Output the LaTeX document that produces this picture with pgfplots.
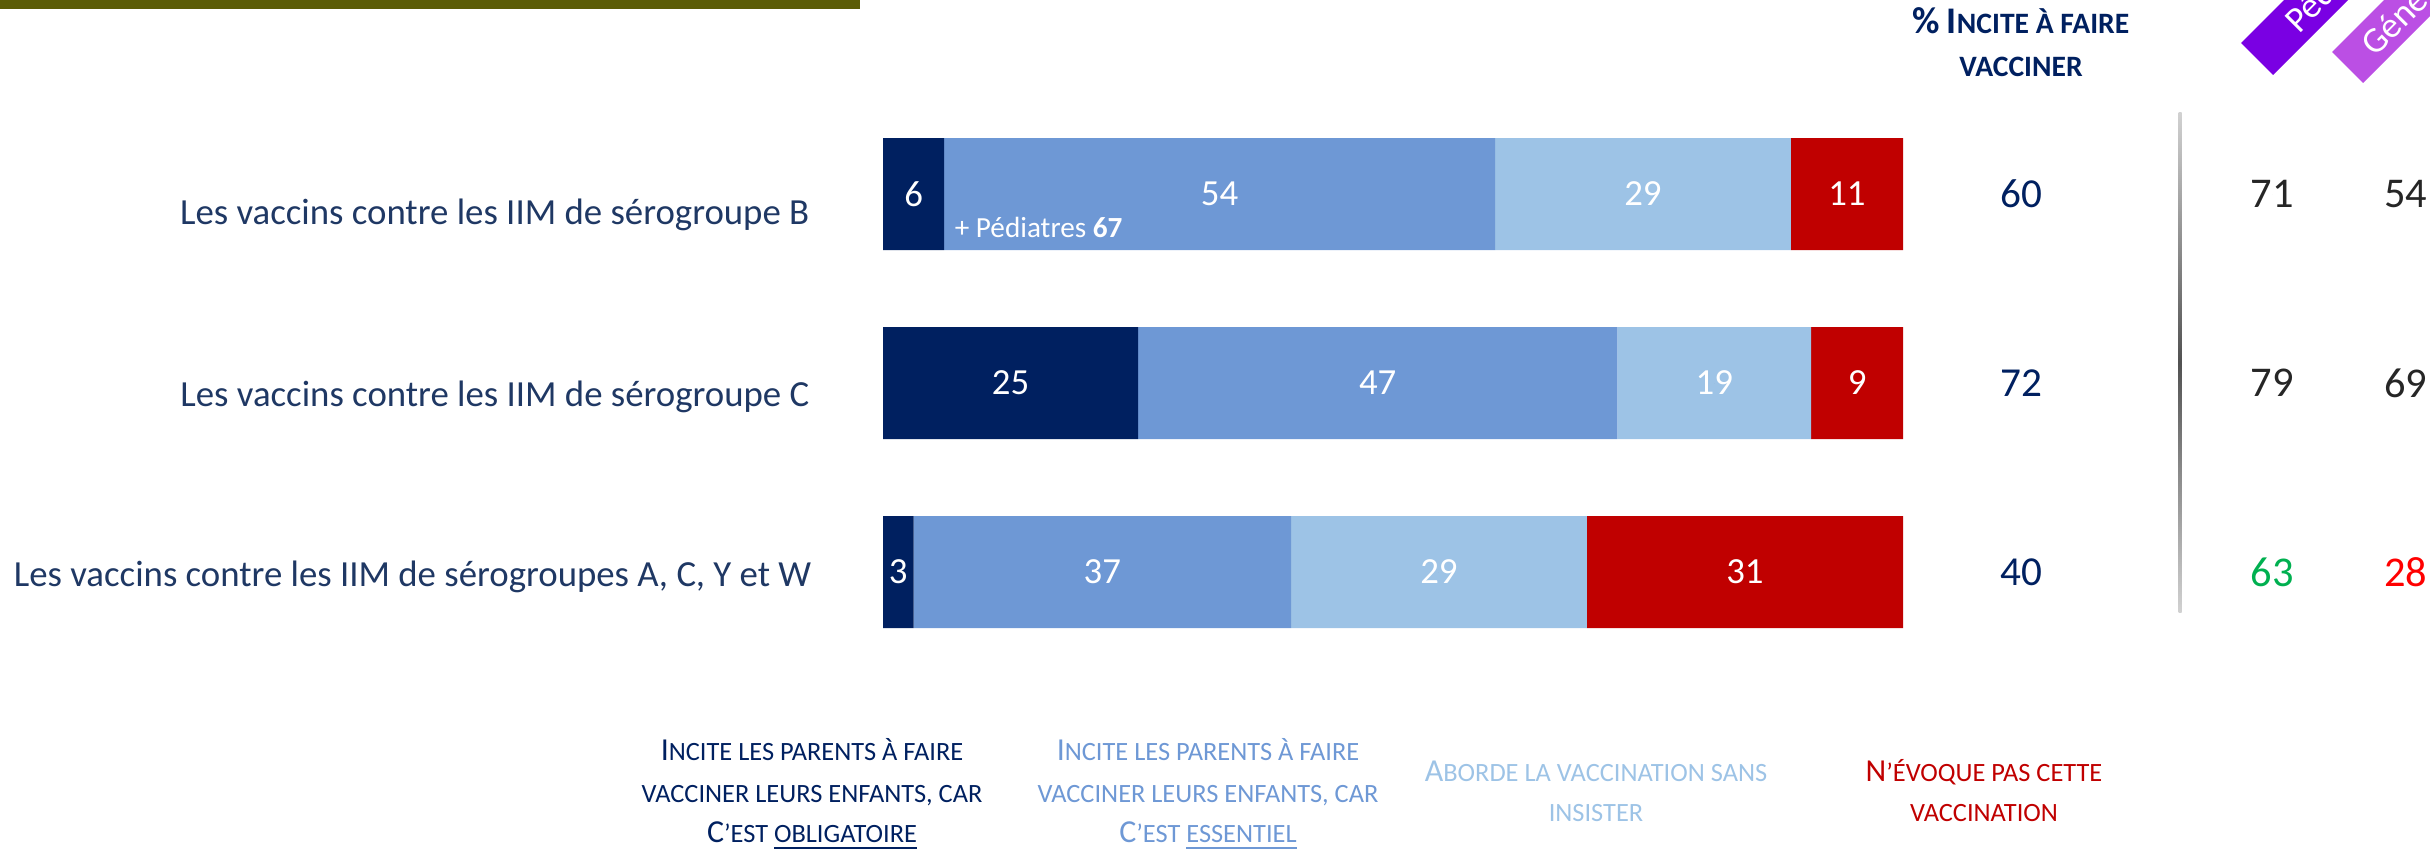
\documentclass[border=0pt]{standalone}
\usepackage{fontspec}
\setmainfont{Carlito}
\usepackage{pgfplots}
\usepackage{pgfplotstable}
\pgfplotsset{compat=1.18}

\definecolor{navy}{HTML}{002060}
\definecolor{midblue}{HTML}{6E98D5}
\definecolor{lightblue}{HTML}{9DC3E6}
\definecolor{darkred}{HTML}{C00000}
\definecolor{labelblue}{HTML}{1F3864}
\definecolor{numgray}{HTML}{262626}
\definecolor{okgreen}{HTML}{00B050}
\definecolor{badred}{HTML}{FF0000}
\definecolor{olivebar}{HTML}{5B5C06}
\definecolor{purpA}{HTML}{7A00E3}
\definecolor{purpB}{HTML}{BB4FE4}

\newcommand{\fs}[1]{\fontsize{#1}{#1}\selectfont}
% fake small caps: first capital at full size
\newcommand{\bigc}[1]{{\fs{8}#1}}
\newcommand{\bigh}[1]{{\fs{9.4}#1}}

% one row per vaccine; y = row centre (px from top)
\pgfplotstableread{
y   v1 v2 v3 v4 tot ped gen
194 6  54 29 11 60  71  54
383 25 47 19 9  72  79  69
572 3  37 29 31 40  63  28
}\vacc

\pgfplotsset{
  pxframe/.style={at={(0,0)}, anchor=south west, scale only axis,
    width=607.5pt, height=212pt,
    xmin=-86.569, xmax=151.667, ymin=0, ymax=848, y dir=reverse,
    hide axis, clip=false},
  lbl/.style={only marks, mark=*, mark size=0pt,
    mark options={draw=none,fill=none}, nodes near coords,
    every node near coord/.append style={anchor=center, inner sep=0pt,
      font={\fs{9.2}}, text=#1}},
}

\begin{document}
\begin{tikzpicture}
\path[use as bounding box] (0,0) rectangle (607.5pt,212pt);

% stacked bars
\begin{axis}[pxframe, xbar stacked, bar width=112]
\addplot[fill=navy, draw=none] table[x=v1, y=y]{\vacc};
\addplot[fill=midblue, draw=none] table[x=v2, y=y]{\vacc};
\addplot[fill=lightblue, draw=none] table[x=v3, y=y]{\vacc};
\addplot[fill=darkred, draw=none] table[x=v4, y=y]{\vacc};
\end{axis}

% value labels
\begin{axis}[pxframe, point meta=explicit, /pgf/number format/assume math mode=true]
\addplot[lbl=white] table[x expr=\thisrow{v1}/2, y=y, meta=v1]{\vacc};
\addplot[lbl=white] table[x expr=\thisrow{v1}+\thisrow{v2}/2, y=y, meta=v2]{\vacc};
\addplot[lbl=white] table[x expr=\thisrow{v1}+\thisrow{v2}+\thisrow{v3}/2, y=y, meta=v3]{\vacc};
\addplot[lbl=white] table[x expr=\thisrow{v1}+\thisrow{v2}+\thisrow{v3}+\thisrow{v4}/2, y=y, meta=v4]{\vacc};
% % incite column
\addplot[lbl=navy, every node near coord/.append style={font={\fs{10.3}}}]
  table[x expr=111.57, y=y, meta=tot]{\vacc};
% Pediatres / Generalistes
\addplot[lbl=numgray, every node near coord/.append style={font={\fs{10.6}}},
  skip coords between index={2}{3}] table[x expr=136.18, y=y, meta=ped]{\vacc};
\addplot[lbl=okgreen, every node near coord/.append style={font={\fs{10.6}}},
  skip coords between index={0}{2}] table[x expr=136.18, y=y, meta=ped]{\vacc};
\addplot[lbl=numgray, every node near coord/.append style={font={\fs{10.6}}},
  skip coords between index={2}{3}] table[x expr=149.3, y=y, meta=gen]{\vacc};
\addplot[lbl=badred, every node near coord/.append style={font={\fs{10.6}}},
  skip coords between index={0}{2}] table[x expr=149.3, y=y, meta=gen]{\vacc};
\end{axis}

% texts, in pixel units from the top left corner
\begin{scope}[x=0.25pt, y=-0.25pt, yshift=212pt]
  \fill[olivebar] (0,0) rectangle (860,9);

  \begin{scope}[every node/.style={anchor=base east, inner sep=0pt, text=labelblue, font=\fs{9.2}}]
    \node at (810,224) {Les vaccins contre les IIM de sérogroupe B};
    \node at (810,406) {Les vaccins contre les IIM de sérogroupe C};
    \node at (812,586) {Les vaccins contre les IIM de sérogroupes A, C, Y et W};
  \end{scope}

  \node[anchor=base west, inner sep=0pt, text=white, font=\fs{7.3}] at (954,237)
    {+ Pédiatres \textbf{67}};

  % header
  \begin{scope}[every node/.style={anchor=base, inner sep=0pt, text=navy, font=\fs{7.4}\bfseries}]
    \node at (2021,34) {\bigh{\%} \bigh{I}NCITE À FAIRE};
    \node at (2021,77) {VACCINER};
  \end{scope}

  % separator with gradient
  \shade[top color=black!18, bottom color=black!18, middle color=black!68]
    (2178.5,113) rectangle (2181.5,612);

  % rotated tabs
  \begin{scope}
    \clip (0,0) rectangle (2430,848);
    \fill[purpA] (2241,43) -- (2273,75) -- (2573,-225) -- (2541,-257) -- cycle;
    \fill[purpB] (2332,52) -- (2363,83) -- (2663,-217) -- (2632,-248) -- cycle;
    \node[anchor=west, rotate=45, inner sep=0pt, text=white, font=\fs{9}] at (2290,26) {Pédiatres};
    \node[anchor=west, rotate=45, inner sep=0pt, text=white, font=\fs{9}] at (2366,49) {Généralistes};
  \end{scope}

  % legend
  \begin{scope}[every node/.style={anchor=base, inner sep=0pt, font=\fs{6.6}}]
    \node[text=navy] at (812,760) {\bigc{I}NCITE LES PARENTS À FAIRE};
    \node[text=navy] at (812,802) {VACCINER LEURS ENFANTS, CAR};
    \node[text=navy] at (812,842) {\bigc{C}’EST \underline{OBLIGATOIRE}};
    \node[text=midblue] at (1208,760) {\bigc{I}NCITE LES PARENTS À FAIRE};
    \node[text=midblue] at (1208,802) {VACCINER LEURS ENFANTS, CAR};
    \node[text=midblue] at (1208,842) {\bigc{C}’EST \underline{ESSENTIEL}};
    \node[text=lightblue] at (1596,781) {\bigc{A}BORDE LA VACCINATION SANS};
    \node[text=lightblue] at (1596,821) {INSISTER};
    \node[text=darkred] at (1984,781) {\bigc{N}’ÉVOQUE PAS CETTE};
    \node[text=darkred] at (1984,821) {VACCINATION};
  \end{scope}
\end{scope}
\end{tikzpicture}
\end{document}
